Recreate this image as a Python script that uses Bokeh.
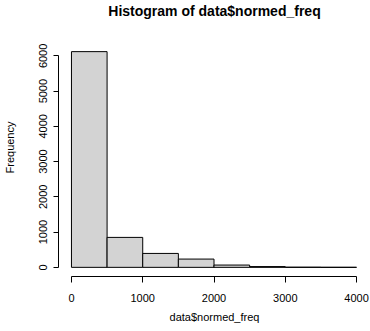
from bokeh.plotting import figure
from bokeh.models import FixedTicker, Range1d
from bokeh.embed import file_html
from bokeh.resources import INLINE

# Histogram data (bin edges and counts)
bin_left = [0, 500, 1000, 1500, 2000, 2500, 3000, 3500]
bin_right = [500, 1000, 1500, 2000, 2500, 3000, 3500, 4000]
counts = [6120, 850, 395, 235, 65, 22, 5, 2]
x_ticks = [0, 1000, 2000, 3000, 4000]
y_ticks = [0, 1000, 2000, 3000, 4000, 5000, 6000]

FONT = "Liberation Sans"

p = figure(width=370, height=331, output_backend="svg", toolbar_location=None,
           x_range=Range1d(-181.8, 4195.8), y_range=Range1d(-259.5, 7060),
           min_border_left=57, min_border_right=0, min_border_top=0, min_border_bottom=55,
           title="Histogram of data$normed_freq")

p.quad(left=bin_left, right=bin_right, bottom=0, top=counts,
       fill_color="#d3d3d3", line_color="black", line_width=1)

p.outline_line_color = None
p.grid.visible = False
p.background_fill_color = "white"
p.border_fill_color = "white"

p.title.align = "center"
p.title.standoff = 0
p.title.text_font = FONT
p.title.text_font_size = "14px"
p.title.text_font_style = "bold"
p.title.text_color = "black"

xa = p.xaxis[0]
xa.ticker = FixedTicker(ticks=x_ticks)
xa.bounds = (0, 4000)
xa.axis_label = "data$normed_freq"
xa.minor_tick_line_color = None
xa.major_tick_out = 6
xa.major_tick_in = 0
xa.major_label_standoff = 11
xa.axis_label_standoff = 6
xa.major_label_text_font = FONT
xa.major_label_text_font_size = "11px"
xa.major_label_text_color = "black"
xa.axis_label_text_font = FONT
xa.axis_label_text_font_size = "11px"
xa.axis_label_text_font_style = "normal"
xa.axis_label_text_color = "black"
xa.axis_line_color = "black"
xa.major_tick_line_color = "black"

ya = p.yaxis[0]
ya.ticker = FixedTicker(ticks=y_ticks)
ya.bounds = (0, 6000)
ya.axis_label = "Frequency"
ya.minor_tick_line_color = None
ya.major_tick_out = 5
ya.major_tick_in = 0
ya.major_label_standoff = 6
ya.major_label_orientation = "vertical"
ya.axis_label_standoff = 21
ya.major_label_text_font = FONT
ya.major_label_text_font_size = "11px"
ya.major_label_text_color = "black"
ya.axis_label_text_font = FONT
ya.axis_label_text_font_size = "11px"
ya.axis_label_text_font_style = "normal"
ya.axis_label_text_color = "black"
ya.axis_line_color = "black"
ya.major_tick_line_color = "black"

open("out.html", "w").write(file_html(p, INLINE))
